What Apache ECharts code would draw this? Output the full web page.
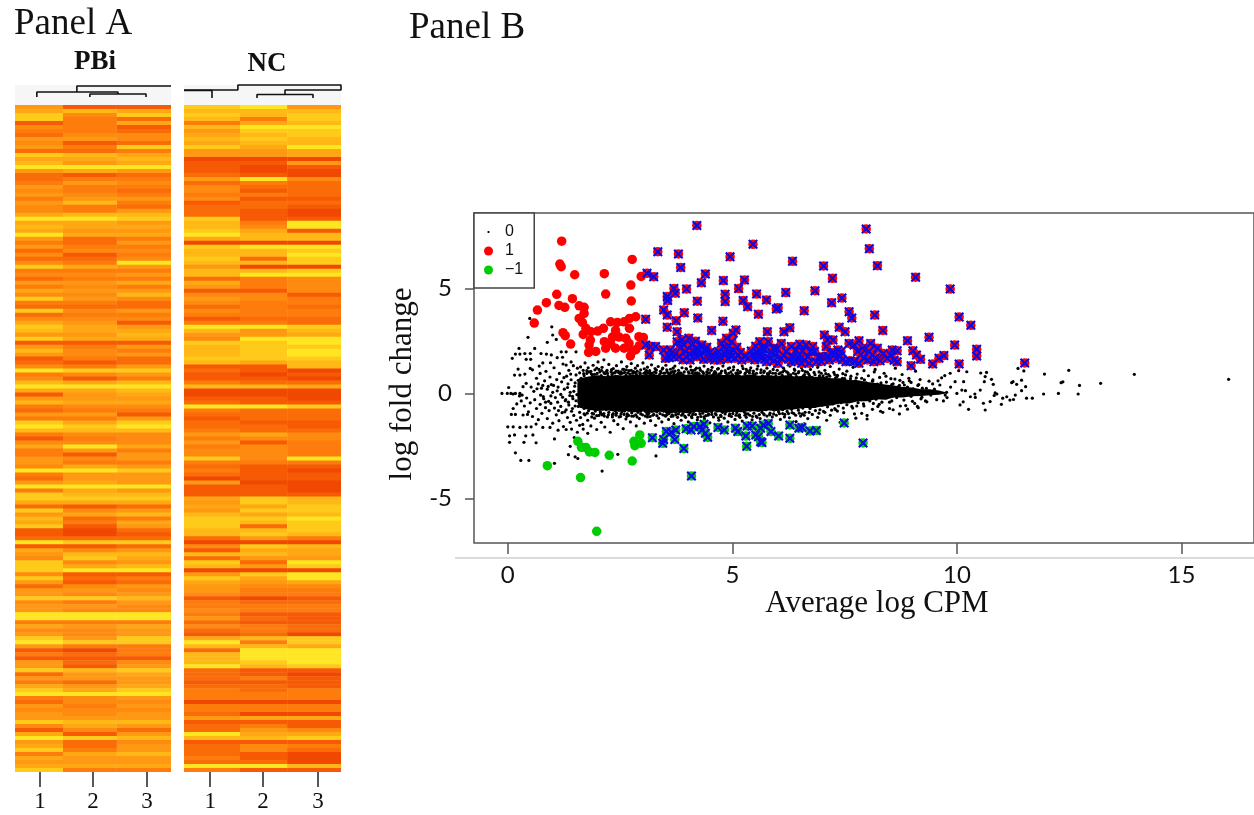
<!DOCTYPE html>
<html><head><meta charset="utf-8">
<style>html,body{margin:0;padding:0;background:#fff}#c{width:1254px;height:815px}</style>
<script src="https://cdn.jsdelivr.net/npm/echarts@6/dist/echarts.min.js"></script>
</head><body><div id="c"></div>
<script>
// Heat map levels (0 = red-orange ... 9 = bright yellow), one array per sample, top row first
const pbi1=[5,6,8,8,1,4,3,2,5,4,5,2,8,6,7,9,5,2,2,3,5,4,5,3,5,4,4,6,9,6,7,6,9,5,3,5,2,4,2,4,8,3,
4,2,5,3,6,4,8,3,2,8,2,4,6,8,7,5,8,1,5,7,5,1,2,4,9,3,4,7,9,6,1,5,7,3,2,5,3,8,9,7,3,1,
4,6,3,3,5,5,4,9,3,2,5,9,3,8,8,6,2,8,5,7,6,8,1,1,2,9,1,6,5,4,8,8,8,4,8,5,2,5,5,8,4,5,
5,9,9,3,6,4,5,8,9,5,1,3,1,5,5,8,2,5,3,6,8,9,3,2,5,4,5,5,8,4,1,6,9,5,6,8,3,6,5,6,8];
const pbi2=[1,7,4,3,3,3,3,4,5,1,3,2,7,6,5,9,6,1,3,5,3,3,4,5,7,3,3,7,9,6,6,5,6,2,2,3,4,1,2,3,6,3,
4,3,5,4,5,4,5,3,2,4,3,4,5,6,6,5,6,1,3,4,4,3,1,3,8,4,1,6,9,6,5,5,6,4,3,5,3,6,8,7,4,3,
4,9,5,1,4,3,6,9,5,5,6,9,6,7,8,6,1,4,6,2,3,1,0,0,2,8,1,4,7,8,4,6,9,1,2,1,4,5,4,8,3,5,
4,9,9,3,5,4,4,5,8,3,0,2,1,2,1,7,5,5,2,5,6,9,4,4,3,4,4,5,7,6,4,1,8,2,2,3,6,5,5,6,3];
const pbi3=[1,6,8,2,6,1,2,4,4,2,8,3,6,7,6,9,5,2,3,4,3,2,3,5,3,2,5,7,8,5,6,5,6,3,5,3,4,3,4,9,5,3,
5,3,6,3,5,7,4,2,2,5,3,4,1,5,6,7,6,1,5,3,5,2,2,5,8,5,3,7,9,7,6,5,6,4,3,1,5,8,9,7,4,4,
4,6,3,5,5,3,5,8,5,5,5,9,5,7,8,6,2,5,7,3,6,5,2,1,2,8,2,5,7,6,5,7,9,1,3,2,5,4,5,7,5,4,
4,9,9,3,6,5,5,8,8,3,3,3,1,4,5,8,6,5,5,6,8,9,5,4,5,4,5,5,7,5,2,5,7,4,5,5,7,5,5,6,3];
const nc1=[8,7,8,7,3,7,5,6,7,6,8,5,5,0,1,1,1,2,5,2,4,4,3,4,1,2,2,2,8,7,7,8,9,6,0,8,7,7,8,7,5,7,
7,2,6,5,1,4,5,4,2,4,3,1,3,9,7,5,4,8,7,7,7,8,7,1,2,1,1,3,7,0,0,1,2,9,3,2,1,2,2,3,5,3,
5,3,4,4,8,3,2,3,2,0,5,1,1,1,6,5,6,5,7,8,8,8,7,7,2,0,4,1,7,2,8,7,0,5,8,6,5,5,4,1,3,3,
4,3,5,2,4,2,1,6,9,7,2,7,7,7,9,2,2,2,1,2,3,3,3,0,3,3,2,5,1,2,2,9,7,1,2,2,2,3,2,9,3];
const nc2=[9,7,7,3,6,9,8,7,8,7,6,5,5,0,1,0,0,1,9,3,2,1,3,1,2,2,1,1,1,3,4,6,7,7,0,9,7,7,2,7,0,7,
9,3,3,3,1,4,4,3,3,3,3,2,3,9,5,5,9,8,8,8,8,8,6,1,1,0,1,2,7,0,0,1,1,9,2,2,2,1,2,2,6,4,
1,4,4,4,4,3,1,1,1,1,0,1,1,1,8,8,6,8,6,8,7,2,7,8,5,0,8,6,7,5,2,5,0,8,6,5,4,3,3,0,2,3,
3,1,2,1,3,3,2,7,3,7,9,9,9,8,7,1,1,3,1,2,2,3,3,0,3,3,0,6,1,3,5,6,7,1,4,4,1,1,2,9,1];
const nc3=[5,7,8,8,7,9,8,8,7,7,9,6,6,0,5,1,0,0,4,2,2,2,2,1,2,1,0,0,1,9,9,1,7,7,0,9,8,9,8,8,0,8,
9,4,4,4,4,1,3,3,2,3,3,2,2,8,7,6,9,9,8,9,9,8,7,7,0,1,0,2,6,0,0,0,1,8,2,2,2,1,1,2,4,4,
3,3,3,3,9,3,1,0,1,1,0,0,0,1,7,7,8,8,7,9,8,8,8,7,3,0,7,6,6,5,9,8,0,9,9,6,4,3,3,1,2,3,
3,1,1,1,2,2,0,8,8,6,9,9,9,9,8,1,0,1,1,1,3,3,3,0,3,3,0,6,1,1,4,6,8,1,3,2,0,0,0,7,1];
const sampleLabels=['1','2','3'];

// MA plot points, as [average log CPM, log fold change]
const redOnly=[[1.2,7.25],[1.16,6.16],[1.19,6.03],[1.49,5.65],[2.15,5.7],[2.77,6.38],[2.97,5.57],[2.74,5.16],[2.18,4.73],[1.09,4.72],[.86,4.32],[.66,3.97],[.59,3.35],[1.14,4.19],[1.27,4.1],[1.44,4.51],[2.75,4.4],[1.59,4.17],[1.7,4.1],[1.7,3.81],[1.59,3.57],[1.66,3.38],[1.74,3.1],[1.23,2.89],[1.28,2.75],[1.4,2.35],[1.68,2.81],[1.85,2.94],[1.84,2.54],[1.81,2.3],[1.8,1.95],[1.96,2],[2,2.97],[2.13,3.1],[2.29,3.41],[2.44,3.38],[2.59,3.41],[2.71,3.57],[2.85,3.65],[2.71,3.1],[2.4,3],[2.33,2.68],[2.48,2.68],[2.63,2.62],[2.7,2.38],[2.15,2.46],[2.29,2.38],[2.18,2.15],[2.4,2.15],[2.59,2.15],[2.77,2],[2.73,1.78],[2.85,2.08],[2.92,2.7],[2.93,2.27],[3.02,2.66]];
const sigUp=[[4.21,8],[3.34,6.75],[3.8,6.64],[3.85,6],[3.1,5.72],[3.25,5.56],[4.4,5.69],[4.31,5.27],[4.8,5.37],[5.27,5.4],[5.46,7.1],[4.95,6.51],[3.7,5],[3.73,4.77],[3.98,4.97],[5.14,4.99],[3.55,4.61],[3.56,4.42],[4.84,4.72],[4.84,4.37],[4.22,4.39],[5.24,4.42],[5.54,4.73],[5.34,4.13],[3.47,3.97],[3.55,3.73],[3.93,3.84],[5.58,3.77],[4.23,3.59],[3.07,3.53],[3.75,3.46],[4.79,3.43],[3.55,3.15],[4.54,3],[3.77,2.94],[5.08,3.02],[5.02,2.86],
[3.07,2.3],[3.18,2.23],[3.15,1.83],[3.29,2.23],[3.47,2.07],[3.51,1.67],[3.62,2.07],[3.77,2.46],[3.84,2.15],[3.81,1.75],[3.95,1.99],[4.03,2.62],[4.1,2.3],[4.06,1.59],[4.21,2.15],[4.32,2.3],[4.28,1.83],[4.4,1.99],[4.47,1.67],[4.69,1.99],[4.76,2.39],[4.87,2.62],[4.99,2.46],[4.84,1.91],[5.02,2.07],[5.13,1.83],[5.21,1.59],[5.35,1.67],[5.54,1.99],[5.61,2.46],[5.65,1.67],[3.92,2.3],[3.7,1.75],[4.21,1.75],[4.54,1.83],[4.6,1.59],[4.73,1.59],[4.95,1.99],[5.06,1.67],[3.9,1.6],[4.15,1.95],[4.36,1.62],[3.6,1.7],[3.98,1.72],[4.12,2.05],[4.9,1.65],[5.5,1.6],[5.42,2.02],
[3.88,2.55],[4.18,2.48],[4.26,2.05],[4.43,2.2],[4.05,1.88],[3.66,1.95],[4.5,1.95],[4.57,1.72],[4.8,2.2],[4.92,2.25],[4.72,1.78],[5.1,2.2],[5.18,1.95],[5.28,1.78],[4.98,1.75],[5.48,1.75],[5.58,1.8],[5.68,2.15],[5.52,2.25],[5.72,1.62],
[7.98,7.83],[8.05,6.89],[8.23,6.08],[6.34,6.29],[7.03,6.07],[7.23,5.48],[9.08,5.53],[9.85,4.97],[6.19,4.8],[6.84,4.89],[5.76,4.45],[7.44,4.54],[7.21,4.32],[5.98,4.02],[6.02,4.08],[6.6,3.94],[7.6,3.89],[7.66,3.59],[8.17,3.73],[10.05,3.64],[10.31,3.24],[7.38,3.15],[7.51,2.94],[8.35,3],[5.78,2.94],[6.15,2.94],[6.28,3.13],[7.05,2.78],[7.12,2.54],[7.24,2.54],[8.9,2.51],[9.38,2.67],[9.95,2.3],[10.44,2.1],[10.44,1.78],[11.51,1.45],[10.05,1.4],[9.71,1.8],[9.6,1.67],[9.46,1.4],[8.98,1.32],[9.19,1.62],[9.1,1.83],[9.02,2.03],
[8.67,2.03],[8.56,2.07],[8.53,1.83],[8.45,1.67],[8.29,1.56],[8.67,1.51],[7.82,1.43],[8.12,1.83],[8.23,2.15],[8.08,2.38],[7.9,2.15],[7.82,2.51],[7.6,2.38],[7.71,2.3],[7.42,1.99],[7.53,1.51],[7.31,1.67],[7.16,1.59],[7.09,2.23],[6.83,1.99],[6.87,1.51],[6.64,2.3],[6.5,2.34],[6.31,2.23],[6.09,2.38],[5.91,2.15],[5.8,2.46],[5.65,1.83],[5.83,1.67],[6.09,1.67],[6.31,1.51],[6.6,1.59],[6.71,1.43],[7.01,1.75],[7.35,2.07],[7.93,1.67],[8.04,1.99],[8.15,1.51],[5.95,1.83],[6.2,1.99],[6.46,1.75],[6.68,1.75],[6.79,2.23],[7.2,1.91],[7.79,1.99],[8.01,1.59],[6.02,1.43],[5.76,1.51],[6.54,1.43],[6.35,1.75],[5.72,2.1],[6.4,1.55],[6.92,1.72],[7.45,1.6],[7.72,1.52],
[5.88,1.95],[6,2.12],[6.14,1.8],[6.25,1.62],[6.42,2.05],[6.56,2.02],[6.74,1.98],[6.98,1.52],[7.12,1.78],[7.26,1.95],[7.4,1.78],[7.62,1.55],[7.86,1.85],[8.18,1.7],[8.36,1.9],[8.6,1.58],[5.92,1.55],[6.5,1.62]];
const greenOnly=[[.88,-3.44],[1.62,-4.01],[1.98,-6.57],[1.56,-2.28],[1.64,-2.57],[1.74,-2.58],[1.82,-2.79],[1.94,-2.81],[2.26,-2.95],[2.77,-3.22],[2.81,-2.28],[2.83,-2.49],[2.97,-2.38],[2.94,-1.98]];
const sigDown=[[3.22,-2.11],[3.45,-2.38],[3.47,-2.19],[3.53,-1.82],[3.64,-1.85],[3.74,-1.74],[3.72,-2.19],[3.92,-2.63],[4.09,-3.93],[3.97,-1.68],[4.08,-1.74],[4.14,-1.58],[4.28,-1.58],[4.37,-1.47],[4.32,-1.74],[4.4,-1.9],[4.45,-2.09],[4.68,-1.62],[4.82,-1.74],[5.07,-1.66],[5.12,-1.82],[5.3,-2.03],[5.32,-2.52],[5.33,-1.55],[5.44,-1.55],[5.52,-1.98],[5.63,-2.3],[5.63,-1.66],[5.58,-2.06],[5.66,-2.34],[5.69,-1.5],[5.8,-1.43],[5.86,-1.82],[6.03,-2.03],[6.28,-1.5],[6.28,-2.14],[6.48,-1.66],[6.55,-1.62],[6.73,-1.79],[6.87,-1.77],[7.49,-1.41],[7.91,-2.36]];

// Solid core of the black cloud: upper and lower edge of log fold change along average log CPM
const coreCpm=[1.55,1.6,1.8,2,2.2,2.4,2.6,2.8,3,3.2,3.4,3.6,3.8,4,4.2,4.4,4.6,4.8,5,5.2,5.4,5.6,5.8,6,6.2,6.4,6.6,6.8,7,7.2,7.4,7.6,7.8,8,8.2,8.4,8.6,8.8,9,9.2,9.4,9.6,9.75];
const coreUpper=[.5,.72,.8,.86,.82,.88,.84,.9,.86,.92,.86,.9,.94,.88,.92,.86,.93,.88,.9,.85,.9,.84,.88,.82,.86,.8,.84,.78,.8,.72,.72,.64,.62,.54,.5,.42,.38,.3,.28,.2,.2,.14,.06];
const coreLower=[-.45,-.68,-.78,-.84,-.8,-.88,-.84,-.9,-.86,-.92,-.88,-.94,-.9,-.94,-.88,-.92,-.86,-.92,-.88,-.9,-.84,-.88,-.82,-.84,-.78,-.76,-.7,-.7,-.62,-.58,-.48,-.48,-.38,-.38,-.28,-.3,-.2,-.2,-.14,-.13,-.09,-.07,-.01];

// Black dots, flat as x,y,x,y...
const blackLeft=[-.13,0,-.01,0,.07,0,.12,-.03,.17,0,.27,0,.34,.32,.32,-.08,.02,.28,.1,1.67,.17,1.87,.27,1.87,.38,1.9,.5,1.9,.6,2.14,.25,2.14,.45,2.67,.49,3.57,.98,3.17,.88,2.43,1,2.78,1.08,2.57,.15,.87,.27,.87,.38,.92,.23,1.16,.5,1.19,.41,1.62,.51,1.62,.74,1.9,.86,1.87,.97,1.83,1.19,1.98,1.3,1.98,1.3,1.35,1.41,1.5,1.52,1.98,
.08,-1,.17,-1,.34,-1.03,.44,-1,0,-1.59,.12,-1.59,.27,-1.62,.41,-1.59,.52,-1.59,.63,-1.46,.78,-1.62,.04,-2.02,.15,-1.98,.4,-2.02,.04,-2.33,.36,-2.33,.63,-2.35,.17,-2.83,.29,-3.19,.47,-3.19,1.04,-3.33,1.04,-2.17,.56,-1.98,1.5,-3.02,1.39,-2.52,1.48,-2.1,1.42,-1.7,1.35,-2.92,1.56,-3.1,2.1,-3.7,2.45,-2.9,3.3,-2.98,
.41,.48,.52,.3,.58,.1,.64,.72,.68,.45,.72,.95,.75,.25,.79,-.15,.82,.6,.85,1.05,.88,.2,.91,-.38,.94,.78,.97,.42,1,.05,1.03,1.22,1.06,-.2,1.09,.66,1.12,.3,1.15,.95,1.18,-.05,1.2,.55,1.23,1.4,1.26,.2,1.29,-.3,1.31,.82,1.34,.45,1.36,1.1,1.39,.05,1.41,.65,1.44,-.14,1.46,1.32,1.49,.34,1.52,.88,1.54,-.06,1.55,1.2,.7,1.3,.95,1.46,1.1,1.7,1.22,1.72,.55,1.12,.78,1.45,
.3,-.36,.37,-.6,.42,-.22,.46,-.88,.5,-.45,.55,-1.1,.6,-.3,.64,-.72,.68,-1.25,.72,-.52,.76,-.95,.8,-.25,.84,-.68,.88,-1.2,.92,-.82,.96,-.48,1,-1.42,1.04,-.7,1.08,-1.02,1.11,-.42,1.14,-1.3,1.18,-.62,1.21,-.92,1.24,-1.58,1.28,-.35,1.3,-.78,1.33,-1.15,1.36,-.55,1.39,-1.38,1.42,-.85,1.45,-.25,1.47,-1.05,1.5,-.6,1.53,-1.28,1.55,-1.85,1.6,-1.52,1.68,-1.7,1.78,-1.9,.26,-.12,.2,-.5,.12,-.72,.94,-1.62,1.12,-1.75,1.3,-1.72,
1.02,.38,1.1,.12,1.25,.75,1.33,.28,1.4,.92,1.47,.1,1.5,.5,1.22,-.18,1.35,-.42,1.44,-.72,1.27,-.88,1.38,-.1,1.52,-.35,1.13,-.82,.9,.33,.96,-.12,.84,-.42,.78,.38,.73,-.08,.65,.22];
const blackUpper=[1.57,.62,1.6,.98,1.62,1.26,1.63,.72,1.66,.55,1.68,1.1,1.7,.84,1.72,1.45,1.74,.66,1.76,.95,1.79,1.22,1.81,.72,1.83,.6,1.85,1.05,1.88,.88,1.9,1.34,1.92,.68,1.94,1.12,1.97,.78,1.99,.95,2.01,1.5,2.03,.7,2.05,1.02,2.08,.85,2.1,1.24,2.12,.74,2.14,1.6,2.16,.94,2.19,.7,2.21,1.1,2.23,.82,2.25,1.38,2.28,.76,2.3,1.02,2.32,.9,2.35,1.18,2.37,.74,2.39,.98,2.42,1.32,2.44,.8,2.46,1.06,2.49,.75,2.51,.92,2.53,1.5,2.56,1.15,2.58,.78,2.6,1,2.63,.86,2.65,1.28,2.68,.76,2.7,1.08,2.72,.92,2.75,1.42,2.77,.8,2.8,1.04,2.82,.74,2.84,1.2,2.87,.9,2.89,1.32,2.92,.78,2.94,.98,2.96,1.12,2.99,.82,3.01,1.45,3.04,.76,3.06,1,3.08,.9,3.11,1.25,3.13,.8,3.16,1.08,3.18,.94,3.2,1.36,3.23,.76,3.25,.86,3.28,1.18,3.3,.98,3.33,.78,3.35,1.28,3.38,.9,3.4,1.05,3.42,.74,3.45,1.2,3.47,.96,3.5,.82,3.52,1.34,3.55,1.02,3.57,.76,3.6,.9,3.62,1.15,3.65,.8,3.67,1.04,3.7,.94,3.72,1.3,3.75,.74,3.77,.86,3.8,1.1,3.83,.98,3.85,.78,3.88,1.22,3.9,.9,3.93,1.02,3.96,.76,3.98,1.16,4.01,.84,4.04,.96,4.07,1.28,4.09,.76,4.12,1.08,4.15,.88,4.17,.98,4.2,1.2,4.23,.76,4.26,.94,4.29,1.1,4.31,.82,4.34,1.02,4.37,1.3,4.4,.76,4.43,.9,4.46,1.14,4.49,.98,4.52,.8,4.55,1.24,4.58,.88,4.61,1.04,4.64,.76,4.67,1.16,4.7,.92,4.73,.82,4.76,1.06,4.79,1.3,4.82,.76,4.85,.98,4.88,.86,4.91,1.18,4.94,.78,4.97,1.02,5,.9,5.03,1.26,5.06,.76,5.09,.94,5.12,1.1,5.15,.84,5.18,1.02,5.22,1.3,5.25,.76,5.28,.92,5.31,1.14,5.34,.82,5.38,.98,5.41,1.22,5.44,.78,5.47,1.06,5.5,.88,5.54,.96,5.57,1.3,5.6,.76,5.64,1.12,5.67,.84,5.7,1,5.74,.76,5.77,1.2,5.8,.9,5.84,1.04,5.87,.78,5.9,.96,5.94,1.28,5.97,.84,6,1.1,6.04,.74,6.07,.98,6.11,.86,6.14,1.2,6.18,.76,6.21,1.02,6.25,.9,6.28,1.3,6.32,.74,6.36,.96,6.39,1.1,6.43,.8,6.47,.98,6.5,.7,6.54,1.22,6.58,.84,6.62,1.04,6.66,.72,6.7,.92,6.74,1.14,6.78,.76,6.82,1,6.86,.66,6.9,1.24,6.94,.84,6.98,.96,7.02,.66,7.06,1.1,7.1,.78,7.14,.9,7.18,1.28,7.22,.62,7.26,1,7.3,.74,7.34,.86,7.38,1.16,7.42,.58,7.46,.94,7.5,.7,7.55,1.06,7.6,.52,7.64,.82,7.69,1.24,7.74,.6,7.78,.92,7.83,.46,7.88,.72,7.93,1.08,7.98,.5,8.03,.84,8.08,.4,8.13,.64,8.18,1.14,8.23,.44,8.28,.76,8.33,.34,8.38,.96,8.43,.54,8.48,.32,8.53,.7,8.58,.46,8.63,1.2,8.68,.3,8.73,.62,8.78,.9,8.83,.4,8.88,.24,8.93,.72,8.98,.52,9.03,.22,9.08,1.06,9.13,.38,9.18,.66,9.23,.25];
const blackUpper2=[2.03,1.14,3.41,.98,5.12,.95,2.67,.97,4.43,1.02,6.3,.88,1.93,.91,3.72,1.06,7.17,.82,2.31,1.13,5.63,.99,4.08,1.11,3.04,1.17,6.72,.83,2.52,1.03,4.92,.96,5.33,1.05,3.86,.97,7.45,.72,2.14,.99,6.04,.93,4.27,1.2,3.22,.97,5.78,.94,2.84,.99,7.02,.84,4.63,.98,6.48,1.04,3.54,1.12,1.76,1.08,5.46,.95,2.41,1.06,4.11,.97,6.16,1.09,3.31,1.11,7.63,.7,2.95,.94,5.02,1.12,1.86,.93,4.74,.96,6.61,.9,3.09,1.08,5.29,.97,2.58,1.14,4.36,.95,7.33,.8,3.63,.99,2.22,.95,5.91,1.14,4.53,1.1,6.84,.89,3.16,.96,1.69,.94,5.71,1.06,2.75,1.1,4.02,1.03,7.94,.64,3.44,1.16,6.41,.92,2.47,.98,5.17,.99,4.84,1.08,3.79,.96,6.93,1.02,2.09,1.09,8.12,.58,5.39,1.1,3.97,1.18,2.64,1.12,4.22,.98,6.24,.98,7.76,.74,3.58,.95,5.55,1.16,2.88,1.06,4.69,1.18,8.31,.5,3.12,.99,6.56,1.1,1.98,1.2,5.08,.97,4.47,.97,7.28,.9,3.68,1.2,2.35,.97,5.83,.98,6.12,1.02,8.55,.42,4.94,1.22,3.27,1.02,2.78,.96,7.52,.88,5.24,1.18,1.81,1.02,4.17,1.13,8.72,.38,6.67,1.01,3.5,.97,2.2,1.04,5.96,.96,4.59,.95,8.9,.3,3.03,.96,6.38,1.16,7.08,.94,2.55,.96];
const blackLower=[1.57,-.62,1.6,-.9,1.62,-1.15,1.65,-.55,1.67,-1.48,1.7,-.72,1.72,-1.02,1.75,-.6,1.78,-1.28,1.8,-.82,1.83,-.66,1.85,-1.55,1.88,-.95,1.9,-.72,1.93,-1.18,1.95,-.84,1.98,-1.72,2,-.7,2.03,-1.05,2.06,-.88,2.08,-1.38,2.11,-.74,2.14,-.96,2.16,-1.6,2.19,-.78,2.22,-1.12,2.25,-.9,2.28,-1.85,2.3,-.76,2.33,-1.02,2.36,-1.3,2.39,-.82,2.42,-.94,2.45,-1.48,2.48,-.8,2.51,-1.1,2.54,-.88,2.57,-1.68,2.6,-.84,2.63,-1.22,2.66,-.98,2.7,-.8,2.73,-1.36,2.76,-.92,2.8,-1.08,2.83,-.82,2.86,-1.55,2.9,-.9,2.93,-1.2,2.96,-.84,3,-1.02,3.04,-1.42,3.07,-.86,3.11,-1.12,3.14,-.94,3.18,-1.3,3.21,-.84,3.25,-1,3.29,-1.52,3.32,-.88,3.36,-1.18,3.39,-.96,3.43,-1.36,3.47,-.84,3.5,-1.06,3.54,-.9,3.58,-1.24,3.62,-.86,3.66,-1.02,3.7,-1.44,3.74,-.9,3.78,-1.14,3.82,-.86,3.86,-1.28,3.9,-.96,3.94,-1.08,3.98,-.84,4.02,-1.36,4.06,-.92,4.1,-1.16,4.14,-.86,4.18,-1,4.22,-1.26,4.26,-.84,4.3,-1.1,4.34,-.94,4.38,-1.22,4.42,-.86,4.46,-1.04,4.5,-1.4,4.54,-.88,4.58,-1.12,4.62,-.96,4.66,-.84,4.7,-1.28,4.74,-1.04,4.78,-.9,4.82,-1.18,4.86,-.86,4.9,-1.36,4.94,-.98,4.98,-1.1,5.02,-.84,5.06,-1.24,5.1,-.92,5.14,-1.06,5.18,-.82,5.22,-1.32,5.27,-.9,5.31,-1.14,5.35,-.98,5.4,-.8,5.44,-1.26,5.48,-.94,5.53,-1.08,5.57,-.8,5.62,-1.2,5.66,-.9,5.71,-1.02,5.75,-.78,5.8,-1.3,5.84,-.94,5.89,-1.12,5.93,-.8,5.98,-1.04,6.03,-.88,6.07,-1.24,6.12,-.78,6.17,-1,6.22,-.86,6.27,-1.16,6.32,-.76,6.37,-.96,6.42,-1.34,6.47,-.8,6.52,-1.08,6.57,-.7,6.62,-.9,6.68,-1.2,6.73,-.72,6.78,-1,6.84,-.62,6.9,-1.14,6.95,-.78,7,-.56,7.06,-.9,7.12,-.64,7.18,-1.04,7.24,-.5,7.3,-.78,7.36,-.6,7.42,-.44,7.48,-.92,7.55,-.54,7.62,-.36,7.68,-.7,7.75,-1.18,7.8,-.44,7.87,-.3,7.93,-.6,8,-1.22,8.06,-.36,8.12,-.76,8.2,-.28,8.27,-.52,8.35,-.9,8.43,-.22,8.5,-.42,8.58,-.78,8.66,-.2,8.74,-.6,8.82,-.32,8.9,-.75,8.98,-.14,9.06,-.48,9.14,-.68,9.22,-.18,9.3,-.36,7.1,-1.28,7.4,-1.38,6.6,-1.45];
const blackLower2=[2.07,-.95,3.52,-1.08,5.16,-1.02,2.69,-1.05,4.41,-1.06,6.33,-.92,1.91,-.98,3.74,-1.02,7.21,-.8,2.33,-1.12,5.6,-1.01,4.09,-1.1,3.06,-1.08,6.71,-.9,2.52,-.98,4.93,-1.06,5.31,-.98,3.87,-1.04,7.47,-.7,2.15,-1.08,6.05,-.97,4.28,-.98,3.23,-1.04,5.77,-1.08,2.85,-1.02,7.03,-.86,4.64,-1.02,6.49,-.94,3.55,-1,1.77,-.94,5.45,-1.1,2.41,-1.04,4.12,-1,6.16,-1.12,3.32,-1.06,7.66,-.62,2.96,-.98,5.01,-.96,1.87,-1.12,4.75,-1.1,6.6,-1.04,3.1,-.96,5.28,-1.04,2.59,-1,4.37,-1.12,7.34,-.84,3.64,-1.1,2.24,-1.02,5.92,-.98,4.54,-1,6.85,-.82,3.17,-1.1,1.7,-.98,5.7,-.98,2.76,-1.08,4.03,-1.02,7.92,-.5,3.45,-1.02,6.41,-1.04,2.48,-1.12,5.17,-1.14,4.84,-.98,3.8,-.98,6.93,-.94,2.1,-1.02,8.14,-.48,5.39,-1.04,3.96,-1.14,2.65,-1.1,4.23,-1.14,6.25,-.96,7.77,-.6,3.59,-.96,5.55,-1.14,2.88,-1.12,4.69,-1.16,8.33,-.42,3.12,-1,6.56,-.98,1.98,-1.06,5.08,-1.04,4.47,-.98,7.28,-.72,3.68,-1.08,2.35,-.96,5.83,-1.02,6.12,-.96,8.55,-.36];
const blackRight=[16.05,.67,13.95,.91,13.2,.48,12.49,1.1,11.95,.92,12.32,.51,12.36,.55,12.73,.38,12.7,-.03,12.26,0,11.93,-.03,11.68,-.23,11.55,-.23,11.36,1.19,11.49,1.07,11.44,.63,11.22,.51,11.33,.43,11.25,.56,11.53,.32,11.44,.13,11.3,-.08,11.26,-.29,11.18,-.32,11.11,-.16,11.02,-.23,10.99,-.52,10.89,-.03,10.83,-.1,10.85,.02,10.77,.67,10.81,.43,10.66,1,10.53,.97,10.63,.8,10.61,.56,10.52,.16,10.41,-.19,10.4,-.03,10.74,-.39,10.63,-.79,10.59,-.47,10.26,-.76,10.07,-.55,10.14,-.4,10.3,-.16,10,0,10.11,.16,10.19,.13,9.96,.56,10.15,.56,10.22,1.03,10.04,1.08,9.85,.96,9.73,.85,9.66,.74,9.58,.6,9.86,.3,9.77,.05,9.78,-.2,9.7,-.36,9.74,-.08,9.62,.4,9.5,.2,9.55,-.3,9.42,-.08,9.46,.45,9.38,.58,9.32,.24,9.33,-.4,9.26,.1,9.2,-.26,9.15,.42,9.12,-.62,9.07,.05,9.01,-.38,8.94,.6,8.86,-.58,8.8,.52,8.72,-.98,8.62,.68,8.5,-.72,8.42,.82,8.3,-.85,8.24,-.62,8.16,1.02,8,-1.05,7.88,-.95,7.72,-.98];

const palette=['#F04800','#F65A04','#FA6C08','#FD7C0C','#FF8A10','#FF9812','#FFA814','#FFB816','#FFCA1A','#FFE620'];
const colEdgesA=[0,.923,1.96,3], colEdgesB=[0,1.07,1.97,3];
const fold=a=>{const o=[];for(let i=0;i<a.length;i+=2)o.push([a[i],a[i+1]]);return o;};
const blackAll=[].concat(fold(blackLeft),fold(blackUpper),fold(blackUpper2),fold(blackLower),fold(blackLower2),fold(blackRight));
const SERIF='"Liberation Serif","Times New Roman",serif';
const SANS='Lato,"Open Sans",sans-serif';
const crossIcon='path://M1.5 0L5 3.5L8.5 0L10 1.5L6.5 5L10 8.5L8.5 10L5 6.5L1.5 10L0 8.5L3.5 5L0 1.5Z';

function heatSeries(cols,edges,gridIdx){
  const data=[];
  cols.forEach((c,ci)=>c.forEach((v,r)=>data.push([ci,r,v])));
  return {type:'custom',xAxisIndex:gridIdx,yAxisIndex:gridIdx,silent:true,clip:true,data,
    encode:{x:0,y:1},
    renderItem:(p,api)=>{
      const c=api.value(0),r=api.value(1);
      const a=api.coord([edges[c],r]),b=api.coord([edges[c+1],r+1]);
      return {type:'rect',shape:{x:a[0],y:a[1],width:b[0]-a[0],height:b[1]-a[1]+.6},style:{fill:palette[api.value(2)]}};
    }};
}
const dendroA=[[[.42,8],[.42,13],[1.98,13],[1.98,11]],[[1.44,8],[1.44,11],[2.52,11],[2.52,8]],[[1.19,13],[1.19,19],[3,19]]];
const dendroB=[[[0,14.5],[.535,14.5],[.535,7]],[[0,15],[1.03,15],[1.03,20],[3,20],[3,15],[1.93,15],[1.93,10.5]],[[1.395,7],[1.395,10.5],[2.465,10.5],[2.465,7]]];
const dendroSeries=(segs,idx)=>segs.map(s=>({type:'line',xAxisIndex:idx,yAxisIndex:idx,data:s,showSymbol:false,silent:true,clip:false,lineStyle:{color:'#111',width:1.6}}));

const tickA=[.48,1.5,2.54], tickB=[.5,1.51,2.56];
const heatX=(idx,ticks)=>({type:'value',gridIndex:idx,min:0,max:3,position:'bottom',splitLine:{show:false},axisLine:{show:false,onZero:false},
  axisTick:{show:true,length:15,customValues:ticks,lineStyle:{color:'#222',width:1.5}},
  axisLabel:{show:true,customValues:ticks,margin:18,fontFamily:SERIF,fontSize:23,color:'#111',formatter:v=>sampleLabels[ticks.indexOf(v)]}});
const hiddenAxis=(idx,extra)=>Object.assign({type:'value',gridIndex:idx,show:false},extra);
const N=pbi1.length;

const option={
  animation:false,backgroundColor:'#fff',
  title:[
    {text:'Panel A',left:9,top:1,textStyle:{fontFamily:SERIF,fontSize:37,fontWeight:'normal',color:'#111'}},
    {text:'Panel B',left:404,top:5,textStyle:{fontFamily:SERIF,fontSize:37,fontWeight:'normal',color:'#111'}},
    {text:'PBi',left:90,top:44,textAlign:'center',textStyle:{fontFamily:SERIF,fontSize:27,fontWeight:'bold',color:'#111'}},
    {text:'NC',left:262,top:46,textAlign:'center',textStyle:{fontFamily:SERIF,fontSize:27,fontWeight:'bold',color:'#111'}}
  ],
  grid:[
    {left:474,top:213,width:785,height:330,show:true,borderColor:'#555',borderWidth:1.5,backgroundColor:'#fff'},
    {left:15,top:105,width:156,height:667},
    {left:184,top:105,width:157,height:667},
    {left:15,top:85,width:156,height:20,show:true,backgroundColor:'#F6F6F6',borderWidth:0},
    {left:184,top:85,width:157,height:20,show:true,backgroundColor:'#F6F6F6',borderWidth:0}
  ],
  xAxis:[
    {type:'value',gridIndex:0,min:-.752,max:16.615,position:'bottom',splitLine:{show:false},axisLine:{show:false,onZero:false},
     axisTick:{show:true,length:11,customValues:[0,5,10,15],lineStyle:{color:'#555',width:1.5}},
     axisLabel:{show:true,customValues:[0,5,10,15],margin:20,fontFamily:SANS,fontSize:24,color:'#111'},
     name:'Average log CPM',nameLocation:'middle',nameGap:42,
     nameTextStyle:{fontFamily:SERIF,fontSize:31,color:'#111',padding:[0,0,0,26]}},
    heatX(1,tickA),heatX(2,tickB),
    hiddenAxis(3,{min:0,max:3}),hiddenAxis(4,{min:0,max:3})
  ],
  yAxis:[
    {type:'value',gridIndex:0,min:-7.124,max:8.59,position:'left',splitLine:{show:false},axisLine:{show:false,onZero:false},
     axisTick:{show:true,length:9,customValues:[-5,0,5],lineStyle:{color:'#555',width:1.5}},
     axisLabel:{show:true,customValues:[-5,0,5],margin:22,fontFamily:SANS,fontSize:24,color:'#111'},
     name:'log fold change',nameLocation:'middle',nameGap:51,
     nameTextStyle:{fontFamily:SERIF,fontSize:31,color:'#111',padding:[0,12,0,0]}},
    hiddenAxis(1,{min:0,max:N,inverse:true}),hiddenAxis(2,{min:0,max:N,inverse:true}),
    hiddenAxis(3,{min:0,max:20}),hiddenAxis(4,{min:0,max:20})
  ],
  legend:{left:474,top:213,orient:'vertical',align:'left',padding:[11,11,10,10],itemWidth:9,itemHeight:9,itemGap:3,
    backgroundColor:'#fff',borderColor:'#444',borderWidth:1.5,selectedMode:false,z:20,
    textStyle:{fontFamily:'"Liberation Sans",Arial,sans-serif',fontSize:16,color:'#111',padding:[0,0,0,7]},
    data:[
      {name:'0',icon:'path://M4 4h2v2H4zM0 0h.01v.01H0zM10 10h.01v.01H10z'},
      {name:'1',icon:'circle'},
      {name:'\u22121',icon:'circle'}
    ]},
  series:[
    {name:'core',type:'custom',xAxisIndex:0,yAxisIndex:0,silent:true,z:2,data:[0],
     renderItem:(p,api)=>{
       const pts=[];
       coreCpm.forEach((x,i)=>pts.push(api.coord([x,coreUpper[i]])));
       for(let i=coreCpm.length-1;i>=0;i--)pts.push(api.coord([coreCpm[i],coreLower[i]]));
       return {type:'polygon',shape:{points:pts},style:{fill:'#000'}};
     }},
    {name:'0',type:'scatter',xAxisIndex:0,yAxisIndex:0,data:blackAll,symbol:'circle',symbolSize:3.2,itemStyle:{color:'#000',opacity:1},silent:true,z:3},
    {name:'1',type:'scatter',xAxisIndex:0,yAxisIndex:0,data:redOnly.concat(sigUp),symbol:'circle',symbolSize:9.5,itemStyle:{color:'#FF0000',opacity:1},silent:true,z:4},
    {name:'\u22121',type:'scatter',xAxisIndex:0,yAxisIndex:0,data:greenOnly.concat(sigDown),symbol:'circle',symbolSize:9.5,itemStyle:{color:'#00CC00',opacity:1},silent:true,z:4},
    {name:'significant',type:'scatter',xAxisIndex:0,yAxisIndex:0,data:sigUp.concat(sigDown),symbol:crossIcon,symbolSize:10,itemStyle:{color:'#0A0AE6',opacity:1},silent:true,z:5},
    heatSeries([pbi1,pbi2,pbi3],colEdgesA,1),
    heatSeries([nc1,nc2,nc3],colEdgesB,2),
    ...dendroSeries(dendroA,3),
    ...dendroSeries(dendroB,4)
  ],
  graphic:[{type:'line',shape:{x1:455,y1:558,x2:1254,y2:558},style:{stroke:'#CFCFCF',lineWidth:1.5},silent:true,z:10}]
};
const chart=echarts.init(document.getElementById('c'),null,{renderer:'canvas'});
chart.setOption(option);
</script></body></html>
